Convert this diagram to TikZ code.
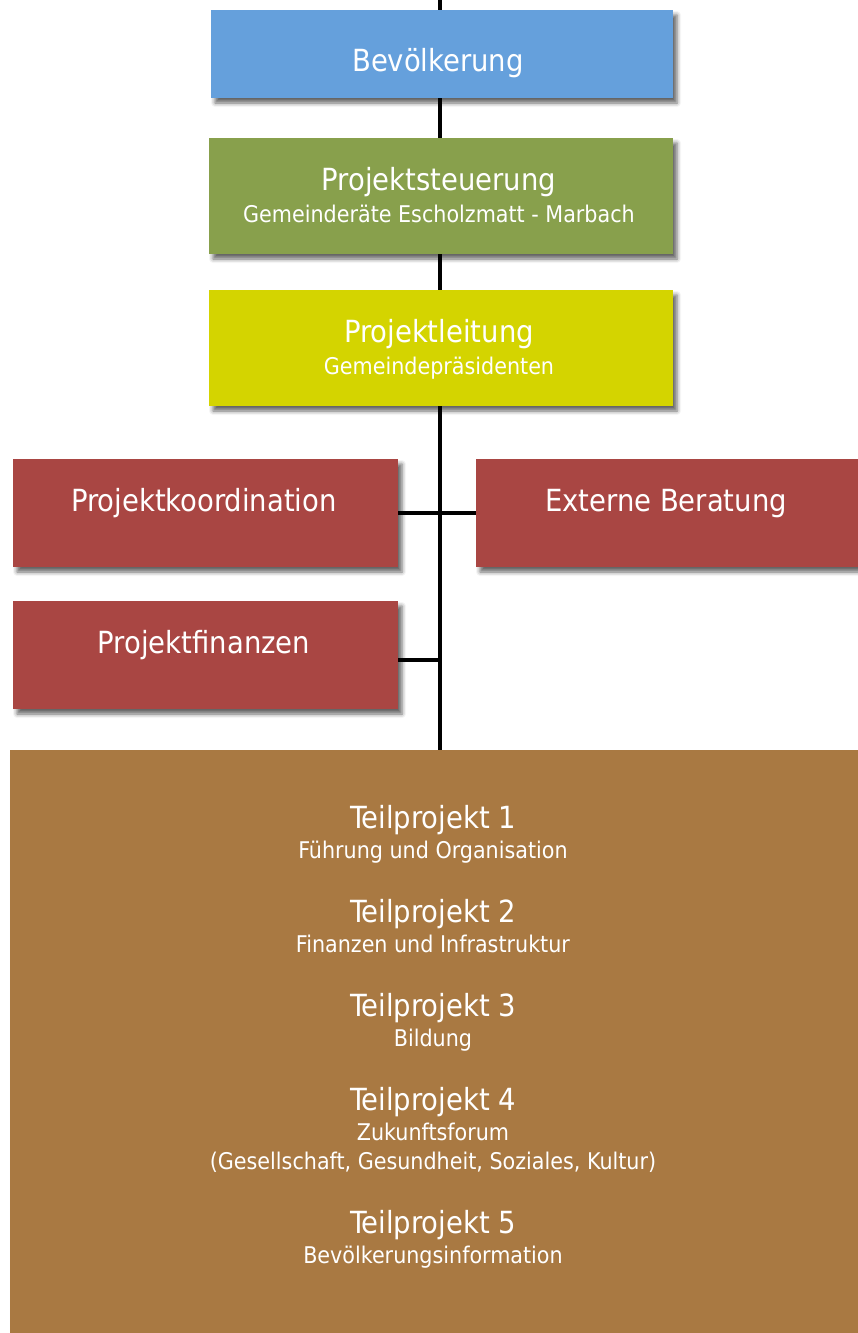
\documentclass[tikz,border=0pt]{standalone}
\usepackage{fontspec}
\setmainfont{DejaVu Sans Condensed}
\usetikzlibrary{shadows.blur}
\definecolor{cblue}{RGB}{101,160,220}
\definecolor{cgreen}{RGB}{136,160,76}
\definecolor{cyellow}{RGB}{212,212,0}
\definecolor{cred}{RGB}{169,70,67}
\definecolor{cbrown}{RGB}{169,121,66}
\begin{document}
\begin{tikzpicture}[x=1pt,y=-1pt,
  box/.style={draw=none, inner sep=0pt, outer sep=0pt, anchor=north west,
    blur shadow={shadow xshift=4pt, shadow yshift=-5pt, shadow blur radius=4pt, shadow opacity=60}},
  ttl/.style={text=white, font=\fontsize{30.5}{36}\selectfont, anchor=base, inner sep=0pt},
  sub/.style={text=white, font=\fontsize{23}{28}\selectfont, anchor=base, inner sep=0pt},
  conn/.style={line width=4pt, black}]
\useasboundingbox (0,0) rectangle (857,1333);

% boxes
\node[box, fill=cblue,   minimum width=462pt, minimum height=88pt]  (bev)    at (211,10)  {};
\node[box, fill=cgreen,  minimum width=464pt, minimum height=116pt] (steu)   at (209,138) {};
\node[box, fill=cyellow, minimum width=464pt, minimum height=116pt] (leit)   at (209,290) {};
\node[box, fill=cred,    minimum width=385pt, minimum height=108pt] (koord)  at (13,459)  {};
\node[box, fill=cred,    minimum width=385pt, minimum height=108pt] (extern) at (476,459) {};
\node[box, fill=cred,    minimum width=385pt, minimum height=108pt] (fin)    at (13,601)  {};
\node[box, fill=cbrown,  minimum width=850pt, minimum height=590pt] (tp)     at (10,750)  {};

% connectors
\coordinate (top) at (440,0);
\draw[conn] (top) -- (top |- bev.north);
\draw[conn] (bev.south -| top) -- (top |- steu.north);
\draw[conn] (steu.south -| top) -- (top |- leit.north);
\draw[conn] (leit.south -| top) -- (top |- tp.north);
\draw[conn] (koord.east) -- (extern.west);
\draw[conn] ([yshift=-5pt]fin.east) -- ([yshift=-5pt]fin.east -| top);

% texts
\node[ttl] (tbev)  at (438,71)  {Bevölkerung};
\node[ttl] (tsteu) at (439,190) {Projektsteuerung};
\node[sub] (ssteu) at (439,222) {Gemeinderäte Escholzmatt - Marbach};
\node[ttl] (tleit) at (439,342) {Projektleitung};
\node[sub] (sleit) at (439,374) {Gemeindepräsidenten};
\node[ttl] (tkoord) at (204,511) {Projektkoordination};
\node[ttl] (text)   at (666,511) {Externe Beratung};
\node[ttl] (tfin)   at (204,653) {Projektfinanzen};

\node[ttl] (t1) at (433,828)  {Teilprojekt 1};
\node[sub] (s1) at (433,858)  {Führung und Organisation};
\node[ttl] (t2) at (433,922)  {Teilprojekt 2};
\node[sub] (s2) at (433,952)  {Finanzen und Infrastruktur};
\node[ttl] (t3) at (433,1016) {Teilprojekt 3};
\node[sub] (s3) at (433,1046) {Bildung};
\node[ttl] (t4) at (433,1110) {Teilprojekt 4};
\node[sub] (s4) at (433,1140) {Zukunftsforum};
\node[sub] (s4b) at (433,1169) {(Gesellschaft, Gesundheit, Soziales, Kultur)};
\node[ttl] (t5) at (433,1233) {Teilprojekt 5};
\node[sub] (s5) at (433,1263) {Bevölkerungsinformation};
\end{tikzpicture}
\end{document}
